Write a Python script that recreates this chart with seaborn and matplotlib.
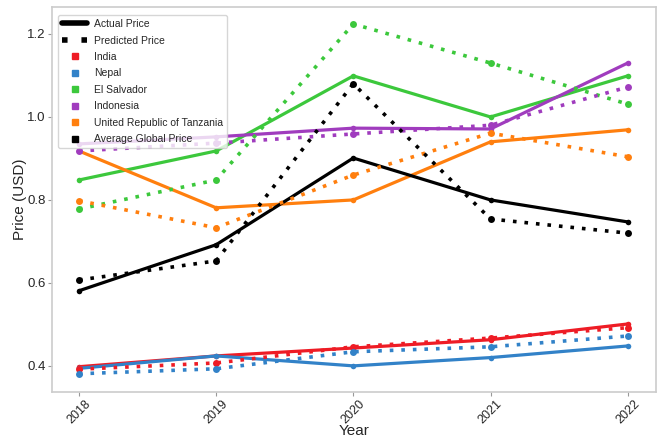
import numpy as np
import pandas as pd
import matplotlib
matplotlib.use("Agg")
import matplotlib.pyplot as plt
from matplotlib.lines import Line2D
import seaborn as sns

years = [2018, 2019, 2020, 2021, 2022]
countries = ["India", "Nepal", "El Salvador", "Indonesia",
             "United Republic of Tanzania", "Average Global Price"]

actual = {
    "India": [0.398, 0.424, 0.443, 0.463, 0.501],
    "Nepal": [0.394, 0.424, 0.400, 0.420, 0.448],
    "El Salvador": [0.848, 0.918, 1.099, 1.000, 1.099],
    "Indonesia": [0.935, 0.952, 0.973, 0.971, 1.130],
    "United Republic of Tanzania": [0.918, 0.781, 0.800, 0.940, 0.969],
    "Average Global Price": [0.581, 0.692, 0.901, 0.800, 0.747],
}
predicted = {
    "India": [0.392, 0.407, 0.446, 0.467, 0.492],
    "Nepal": [0.381, 0.393, 0.434, 0.446, 0.472],
    "El Salvador": [0.778, 0.848, 1.224, 1.130, 1.031],
    "Indonesia": [0.918, 0.937, 0.959, 0.980, 1.072],
    "United Republic of Tanzania": [0.798, 0.733, 0.860, 0.961, 0.904],
    "Average Global Price": [0.607, 0.653, 1.080, 0.754, 0.720],
}

colors = {
    "India": "#ee1c25",
    "Nepal": "#3282c8",
    "El Salvador": "#3cc83c",
    "Indonesia": "#a03cbe",
    "United Republic of Tanzania": "#ff7f0e",
    "Average Global Price": "#000000",
}

rows = []
for c in countries:
    for y, a, p in zip(years, actual[c], predicted[c]):
        rows.append({"Year": y, "Country": c, "Kind": "Actual Price", "Price": a})
        rows.append({"Year": y, "Country": c, "Kind": "Predicted Price", "Price": p})
df = pd.DataFrame(rows)

sns.set_style("ticks")
plt.rcParams["font.family"] = ["Liberation Sans", "DejaVu Sans"]

fig = plt.figure(figsize=(6.57, 4.38), dpi=100)
ax = fig.add_axes([0.079, 0.105, 0.919, 0.879])

sns.lineplot(data=df[df.Kind == "Actual Price"], x="Year", y="Price",
             hue="Country", palette=colors, hue_order=countries,
             marker="o", markersize=4, markeredgewidth=0, linewidth=2.3,
             legend=False, ax=ax)
sns.lineplot(data=df[df.Kind == "Predicted Price"], x="Year", y="Price",
             hue="Country", palette=colors, hue_order=countries,
             marker="o", markersize=5, markeredgewidth=0, linewidth=2.6,
             linestyle=(0, (1, 2.2)), legend=False, ax=ax)

ax.set_xlim(2017.803, 2022.204)
ax.set_ylim(0.337, 1.265)
ax.set_xticks(years)
ax.set_xticklabels([str(y) for y in years], rotation=45, fontsize=9)
ax.set_yticks([0.4, 0.6, 0.8, 1.0, 1.2])
ax.set_yticklabels(["0.4", "0.6", "0.8", "1.0", "1.2"], fontsize=9.5)
ax.set_xlabel("Year", fontsize=11, labelpad=-2)
ax.set_ylabel("Price (USD)", fontsize=11, labelpad=0)
ax.tick_params(axis="both", length=3, width=0.8, color="#999999", pad=1.5)
for s in ax.spines.values():
    s.set_color("#cccccc")
    s.set_linewidth(1.2)

handles = [
    Line2D([], [], color="black", lw=4, ls="-", label="Actual Price"),
    Line2D([], [], color="black", lw=4, ls=(0, (1, 2.5)), label="Predicted Price"),
]
for c in countries:
    handles.append(Line2D([], [], color=colors[c], marker="s", ls="none",
                          markersize=5, label=c))
leg = ax.legend(handles=handles, loc="upper left", fontsize=7.5,
                frameon=True, framealpha=0.8, edgecolor="#cccccc",
                borderpad=0.4, labelspacing=0.62, handlelength=2.4,
                handletextpad=0.6, bbox_to_anchor=(0.002, 0.993))
leg.get_frame().set_linewidth(1.0)

fig.savefig("out.png", dpi=100)
